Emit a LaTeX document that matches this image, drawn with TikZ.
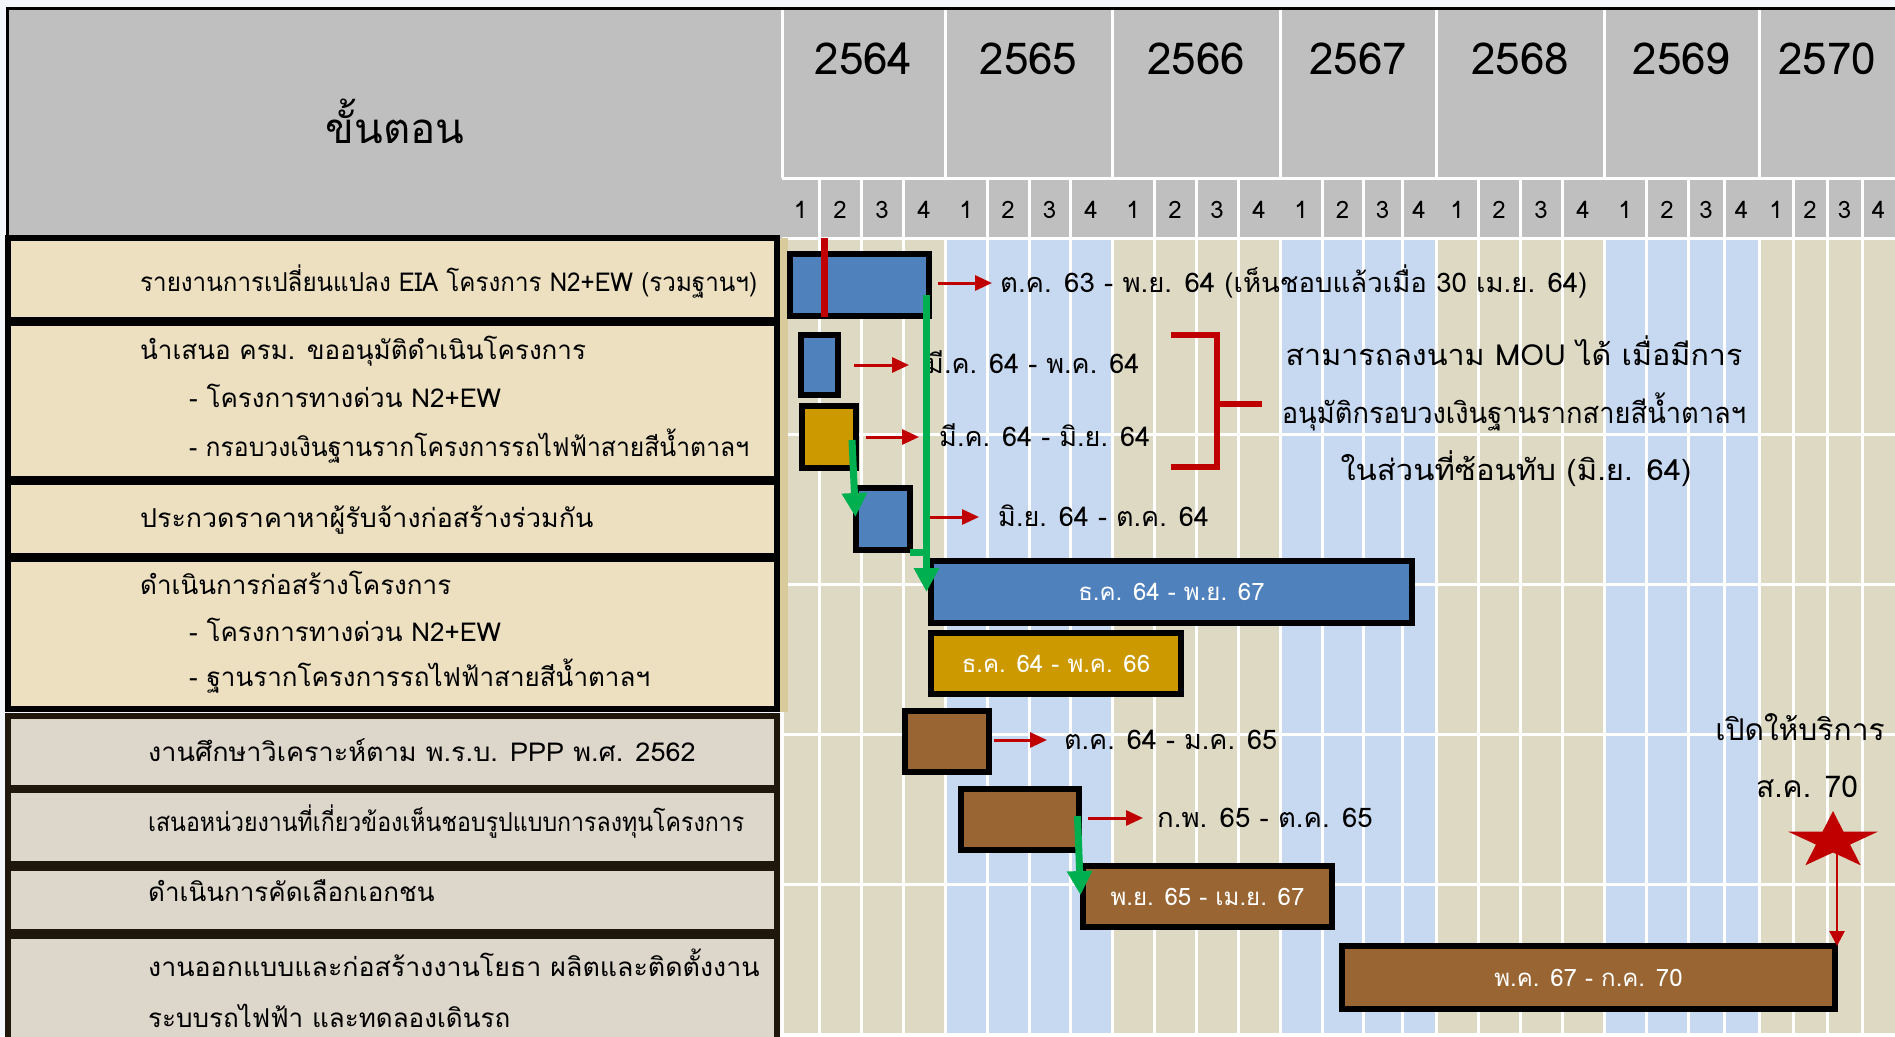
\documentclass[tikz,border=0pt]{standalone}
\usepackage{fontspec}
\usepackage{graphicx}
\setmainfont[Script=Thai]{Loma}
\usetikzlibrary{arrows.meta,calc}
\definecolor{bgout}{HTML}{F3F7FB}
\definecolor{hdrgray}{HTML}{BFBFBF}
\definecolor{stripebeige}{HTML}{DDD9C3}
\definecolor{stripeblue}{HTML}{C6D9F1}
\definecolor{rowtan}{HTML}{ECE0C1}
\definecolor{rowgray}{HTML}{DDD6CB}
\definecolor{rowedge}{HTML}{1F160C}
\definecolor{khaki}{HTML}{D8CA9A}
\definecolor{barblue}{HTML}{4F81BD}
\definecolor{bargold}{HTML}{CC9900}
\definecolor{barbrown}{HTML}{996633}
\definecolor{darkred}{HTML}{C00000}
\definecolor{mygreen}{HTML}{00B050}
\newcommand\squeeze[2]{\scalebox{#1}[1]{#2}}
\begin{document}
\begin{tikzpicture}[x=1pt,y=-1pt,
  bar/.style={draw=black, line width=5.5pt, inner sep=0pt, outer sep=0pt, text=white, font=\fontsize{24pt}{27pt}\selectfont},
  rowA/.style={draw=black, line width=6pt, fill=rowtan, inner sep=0pt, outer sep=0pt, minimum width=769pt},
  rowB/.style={draw=rowedge, line width=6pt, fill=rowgray, inner sep=0pt, outer sep=0pt, minimum width=769pt},
  tabtext/.style={anchor=base west, inner sep=0pt, font=\fontsize{26pt}{30pt}\selectfont},
  note/.style={anchor=base west, inner sep=0pt, font=\fontsize{27pt}{31pt}\selectfont},
  bignote/.style={anchor=base, inner sep=0pt, font=\fontsize{29pt}{32pt}\selectfont},
  yearlab/.style={anchor=base, inner sep=0pt, font=\fontsize{44pt}{48pt}\selectfont},
  qlab/.style={anchor=base, inner sep=0pt, font=\fontsize{24pt}{28pt}\selectfont},
  gridline/.style={white, line width=3pt},
  redarr/.style={darkred, line width=3pt, -{Triangle[length=17pt,width=15pt]}},
  greenarr/.style={mygreen, line width=7pt, -{Triangle[length=24pt,width=24pt]}},
  thinred/.style={darkred, line width=2.5pt, -{Triangle[length=15pt,width=15pt]}}
]
\useasboundingbox (0,0) rectangle (1895,1036);
\fill[bgout] (0,0) rectangle (1895,1036);
% header background
\fill[hdrgray] (6,8) rectangle (1895,238);
% chart stripes
\foreach \a/\b/\c in {784/945/stripebeige, 945/1112/stripeblue, 1112/1280/stripebeige, 1280/1436/stripeblue, 1436/1604/stripebeige, 1604/1759/stripeblue, 1759/1895/stripebeige}
  \fill[\c] (\a,238) rectangle (\b,1036);
% chart grid
\foreach \x in {782,819,861,903,945,987,1029,1070,1112,1154,1196,1238,1280,1322,1363,1402,1436,1478,1520,1562,1604,1646,1688,1724,1759,1793,1827,1862}
  \draw[gridline] (\x,238) -- (\x,1036);
\foreach \y in {238,434,584,734,884,1034}
  \draw[gridline] (782,\y) -- (1895,\y);
% header grid
\draw[gridline] (782,178) -- (1895,178);
\foreach \x in {782,945,1112,1280,1436,1604,1759}
  \draw[gridline] (\x,10) -- (\x,178);
\foreach \x in {819,861,903,987,1029,1070,1154,1196,1238,1322,1363,1402,1478,1520,1562,1646,1688,1724,1793,1827,1862}
  \draw[gridline] (\x,178) -- (\x,238);
\draw[black, line width=3pt] (6,8.5) -- (1895,8.5);
\draw[black, line width=3pt] (7.5,8) -- (7.5,238);
% header labels
\node[font=\fontsize{42pt}{46pt}\selectfont, anchor=base, inner sep=0pt] (hstep) at (395,143) {ขั้นตอน};
\foreach \a/\b/\yr in {782/945/2564, 945/1112/2565, 1112/1280/2566, 1280/1436/2567, 1436/1604/2568, 1604/1759/2569, 1759/1895/2570}
  \node[yearlab] (y\yr) at ({(\a+\b)/2},74) {\yr};
\foreach \a/\b/\n in {782/819/1, 819/861/2, 861/903/3, 903/945/4, 945/987/1, 987/1029/2, 1029/1070/3, 1070/1112/4, 1112/1154/1, 1154/1196/2, 1196/1238/3, 1238/1280/4, 1280/1322/1, 1322/1363/2, 1363/1402/3, 1402/1436/4, 1436/1478/1, 1478/1520/2, 1520/1562/3, 1562/1604/4, 1604/1646/1, 1646/1688/2, 1688/1724/3, 1724/1759/4, 1759/1793/1, 1793/1827/2, 1827/1862/3, 1862/1895/4}
  \node[qlab] (q\a) at ({(\a+\b)/2},218) {\n};
% left table
\fill[khaki] (778,238) rectangle (788,712);
\node[rowA, minimum height=82pt] (r1) at (392.5,279) {};
\node[rowA, minimum height=156pt] (r2) at (392.5,401) {};
\node[rowA, minimum height=74pt] (r3) at (392.5,519) {};
\node[rowA, minimum height=150pt] (r4) at (392.5,634) {};
\node[rowB, minimum height=72pt] (r5) at (392.5,752) {};
\node[rowB, minimum height=74pt] (r6) at (392.5,827) {};
\node[rowB, minimum height=64pt] (r7) at (392.5,900) {};
\node[rowB, minimum height=109pt] (r8) at (392.5,990.5) {};
\node[tabtext] (t1) at (140,291) {\squeeze{0.93}{รายงานการเปลี่ยนแปลง EIA โครงการ N2+EW (รวมฐานฯ)}};
\node[tabtext] (t2a) at (140,359) {นำเสนอ ครม. ขออนุมัติดำเนินโครงการ};
\node[tabtext] (t2b) at (189,407) {- โครงการทางด่วน N2+EW};
\node[tabtext] (t2c) at (189,456) {\squeeze{0.95}{- กรอบวงเงินฐานรากโครงการรถไฟฟ้าสายสีน้ำตาลฯ}};
\node[tabtext] (t3) at (140,527) {\squeeze{1.03}{ประกวดราคาหาผู้รับจ้างก่อสร้างร่วมกัน}};
\node[tabtext] (t4a) at (140,594) {ดำเนินการก่อสร้างโครงการ};
\node[tabtext] (t4b) at (189,641) {- โครงการทางด่วน N2+EW};
\node[tabtext] (t4c) at (189,686) {- ฐานรากโครงการรถไฟฟ้าสายสีน้ำตาลฯ};
\node[tabtext] (t5) at (148,761) {\squeeze{1.04}{งานศึกษาวิเคราะห์ตาม พ.ร.บ. PPP พ.ศ. 2562}};
\node[tabtext] (t6) at (148,831) {\squeeze{0.89}{เสนอหน่วยงานที่เกี่ยวข้องเห็นชอบรูปแบบการลงทุนโครงการ}};
\node[tabtext] (t7) at (148,901) {ดำเนินการคัดเลือกเอกชน};
\node[tabtext] (t8a) at (148,976) {\squeeze{1.03}{งานออกแบบและก่อสร้างงานโยธา ผลิตและติดตั้งงาน}};
\node[tabtext] (t8b) at (148,1027) {ระบบรถไฟฟ้า และทดลองเดินรถ};
% bars
\node[bar, fill=barblue, minimum width=139pt, minimum height=62pt] (b1) at (859.5,285) {};
\node[bar, fill=barblue, minimum width=37pt, minimum height=60pt] (b2) at (819.5,365) {};
\node[bar, fill=bargold, minimum width=54pt, minimum height=62pt] (b3) at (829,437) {};
\node[bar, fill=barblue, minimum width=54pt, minimum height=62pt] (b4) at (883,519) {};
\node[bar, fill=barblue, minimum width=481pt, minimum height=62pt] (b5) at (1171.5,592) {ธ.ค. 64 - พ.ย. 67};
\node[bar, fill=bargold, minimum width=250pt, minimum height=61pt] (b6) at (1056,663.5) {ธ.ค. 64 - พ.ค. 66};
\node[bar, fill=barbrown, minimum width=84pt, minimum height=61pt] (b7) at (947,741.5) {};
\node[bar, fill=barbrown, minimum width=118pt, minimum height=61pt] (b8) at (1020,819.5) {};
\node[bar, fill=barbrown, minimum width=249pt, minimum height=61pt] (b9) at (1207.5,896.5) {พ.ย. 65 - เม.ย. 67};
\node[bar, fill=barbrown, minimum width=493pt, minimum height=63pt] (b10) at (1588.5,977.5) {พ.ค. 67 - ก.ค. 70};
% red marker in EIA bar
\coordinate (mtop) at (824,238);
\coordinate (mbot) at (824,317);
\draw[darkred, line width=7pt] (mtop) -- (mbot);
% annotations
\node[note] (a1) at (1000,292) {\squeeze{1.02}{ต.ค. 63 - พ.ย. 64 (เห็นชอบแล้วเมื่อ 30 เม.ย. 64)}};
\node[note] (a2) at (926,373) {มี.ค. 64 - พ.ค. 64};
\node[note] (a3) at (939,446) {มี.ค. 64 - มิ.ย. 64};
\node[note] (a4) at (998,526) {มิ.ย. 64 - ต.ค. 64};
\node[note] (a7) at (1064,749) {ต.ค. 64 - ม.ค. 65};
\node[note] (a8) at (1157,827) {\squeeze{1.02}{ก.พ. 65 - ต.ค. 65}};
\draw[redarr] ([xshift=9pt,yshift=2pt]b1.east) -- ++(54,0);
\draw[redarr] ([xshift=16pt]b2.east) -- ++(55,0);
\draw[redarr] ([xshift=10pt]b3.east) -- ++(53,0);
\draw[redarr] ([xshift=15pt,yshift=2pt]b4.east) -- ++(54,0);
\draw[redarr] ([xshift=5pt,yshift=1.5pt]b7.east) -- ++(53,0);
\draw[redarr] ([xshift=9pt,yshift=1.5pt]b8.east) -- ++(55,0);
% bracket and MOU note
\coordinate (brt) at (1171,335);
\coordinate (brb) at (1171,467);
\draw[darkred, line width=5.5pt] (brt) -- (1217,335) -- (1217,467) -- (brb);
\draw[darkred, line width=5.5pt] (1217,404) -- (1262,404);
\node[bignote] (m1) at (1514,365) {\squeeze{1.05}{สามารถลงนาม MOU ได้ เมื่อมีการ}};
\node[bignote] (m2) at (1514,423) {\squeeze{0.94}{อนุมัติกรอบวงเงินฐานรากสายสีน้ำตาลฯ}};
\node[bignote] (m3) at (1516,480) {\squeeze{1.07}{ในส่วนที่ซ้อนทับ (มิ.ย. 64)}};
% green connectors
\draw[greenarr] ([xshift=-2.5pt,yshift=-10pt]b1.east) -- ([xshift=-2.5pt]b1.east |- 0,592);
\draw[mygreen, line width=7pt] ([yshift=-33pt]b4.east) -- ++(18.5,0);
\draw[greenarr] ([xshift=-4pt]b3.south east) ++(0,-28) -- (855.5,517);
\draw[greenarr] ([xshift=-1.5pt]b8.south east) ++(0,-34) -- (1080.5,895);
% opening marker
\node[font=\fontsize{30pt}{34pt}\selectfont, anchor=base, inner sep=0pt] (open1) at (1800,740) {เปิดให้บริการ};
\node[font=\fontsize{30pt}{34pt}\selectfont, anchor=base, inner sep=0pt] (open2) at (1807,797) {ส.ค. 70};
\coordinate (star) at (1837,845);
\begin{scope}[shift={(1833,841)}, x=47pt, y=30pt]
  \fill[darkred] (90:1) -- (126:0.382) -- (162:1) -- (198:0.382) -- (234:1) -- (270:0.382) -- (306:1) -- (342:0.382) -- (18:1) -- (54:0.382) -- cycle;
\end{scope}
\draw[thinred] (star) -- (star |- b10.north);
\end{tikzpicture}
\end{document}
